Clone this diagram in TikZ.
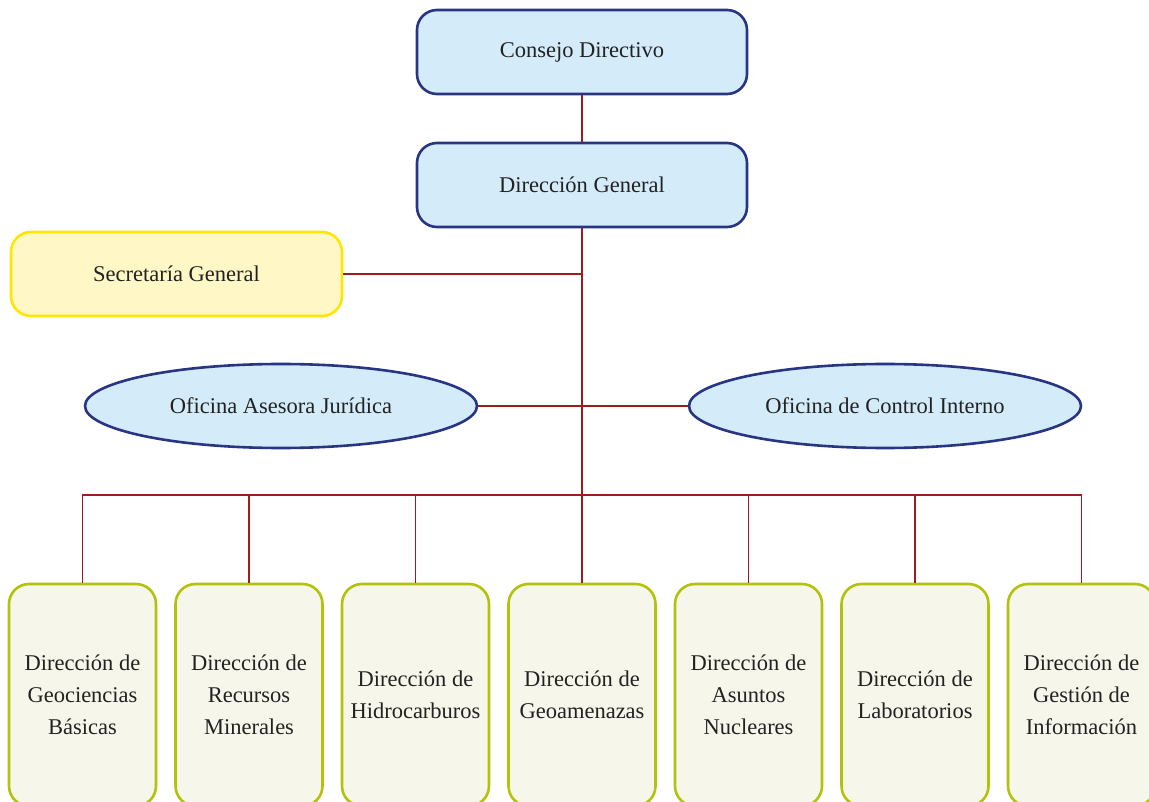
\documentclass[tikz,border=0pt]{standalone}
\usepackage{fontspec}
\setmainfont{Liberation Serif}
\usetikzlibrary{shapes.geometric}
\definecolor{bluedraw}{HTML}{283583}
\definecolor{bluefill}{HTML}{D4EBFA}
\definecolor{yelldraw}{HTML}{FFE600}
\definecolor{yellfill}{HTML}{FFF8C6}
\definecolor{grndraw}{HTML}{B3C20C}
\definecolor{grnfill}{HTML}{F6F6EA}
\definecolor{linkred}{HTML}{9E1C1C}
\definecolor{txt}{HTML}{222222}
\tikzset{
  topbox/.style={draw=bluedraw, fill=bluefill, line width=2.6pt, rounded corners=20pt,
    minimum width=330pt, minimum height=84pt, inner sep=0pt, font=\fontsize{22.5}{27}\selectfont, text=txt},
  secbox/.style={draw=yelldraw, fill=yellfill, line width=2.6pt, rounded corners=20pt,
    minimum width=331pt, minimum height=84pt, inner sep=0pt, font=\fontsize{22.5}{27}\selectfont, text=txt},
  ovalbox/.style={ellipse, draw=bluedraw, fill=bluefill, line width=2.6pt,
    minimum width=392pt, minimum height=84pt, inner sep=0pt, font=\fontsize{22.5}{27}\selectfont, text=txt},
  dirbox/.style={draw=grndraw, fill=grnfill, line width=2.6pt, rounded corners=20pt,
    minimum width=147pt, minimum height=222pt, inner sep=0pt, align=center,
    font=\fontsize{22.5}{32}\selectfont, text=txt},
  link/.style={draw=linkred, line width=1.2pt}
}
\begin{document}
\begin{tikzpicture}[x=1pt,y=-1pt]
\useasboundingbox (0,0) rectangle (1149,802);
\clip (0,0) rectangle (1149,802);
\fill[white] (0,0) rectangle (1149,802);
\node[topbox] (cd) at (582,52) {Consejo Directivo};
\node[topbox] (dg) at (582,185) {Dirección General};
\node[secbox] (sg) at (176.5,274) {Secretaría General};
\node[ovalbox] (oaj) at (281,406) {Oficina Asesora Jurídica};
\node[ovalbox] (oci) at (885,406) {Oficina de Control Interno};
\node[dirbox] (b1) at (82.5,695) {Dirección de\\Geociencias\\Básicas};
\node[dirbox] (b2) at (249,695) {Dirección de\\Recursos\\Minerales};
\node[dirbox] (b3) at (415.5,695) {Dirección de\\Hidrocarburos};
\node[dirbox] (b4) at (582,695) {Dirección de\\Geoamenazas};
\node[dirbox] (b5) at (748.5,695) {Dirección de\\Asuntos\\Nucleares};
\node[dirbox] (b6) at (915,695) {Dirección de\\Laboratorios};
\node[dirbox] (b7) at (1081.5,695) {Dirección de\\Gestión de\\Información};
\coordinate (bus) at (582,495);
\draw[link] (cd.south) -- (dg.north);
\draw[link] (sg.east) -- (sg.east -| dg.south);
\draw[link] (oaj.east) -- (oci.west);
\draw[link] (dg.south) -- (b4.north);
\draw[link] (b1.north) |- (bus) -| (b7.north);
\foreach \b in {b2,b3,b5,b6} { \draw[link] (\b.north) -- (\b.north |- bus); }
\end{tikzpicture}
\end{document}
